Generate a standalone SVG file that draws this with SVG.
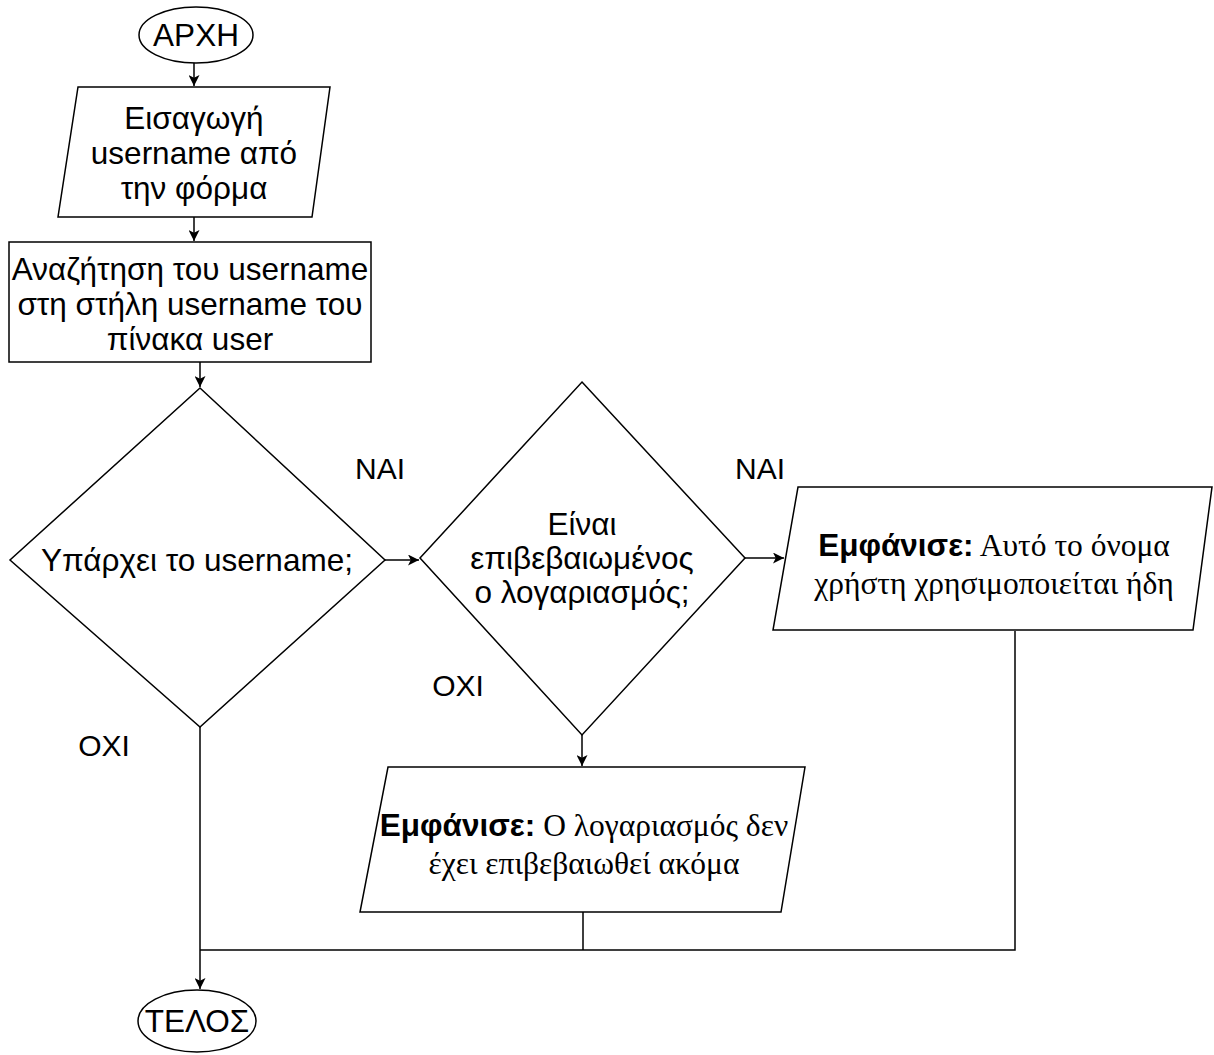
<svg xmlns="http://www.w3.org/2000/svg" width="1214" height="1055" viewBox="0 0 1214 1055">
<defs>
<marker id="arr" viewBox="0 0 10 10" refX="10" refY="5" markerWidth="11" markerHeight="11" markerUnits="userSpaceOnUse" orient="auto">
<path d="M0,0 L10,5 L0,10 L2.5,5 Z" fill="#000"/>
</marker>
<style>
.s{fill:#fff;stroke:#000;stroke-width:1.5}
.c{fill:none;stroke:#000;stroke-width:1.5}
.t{font-family:"Liberation Sans",Arial,sans-serif;font-size:31.5px;fill:#000;text-anchor:middle}
.l{font-family:"Liberation Sans",Arial,sans-serif;font-size:30px;fill:#000;text-anchor:middle}
.b{font-family:"Liberation Sans",Arial,sans-serif;font-weight:bold}
.r{font-family:"Liberation Serif","Times New Roman",serif;font-size:31.5px;fill:#000;text-anchor:middle}
</style>
</defs>
<rect width="1214" height="1055" fill="#fff"/>
<g id="connectors">
<path class="c" d="M194,63 L194,86" marker-end="url(#arr)"/>
<path class="c" d="M194,217 L194,241" marker-end="url(#arr)"/>
<path class="c" d="M200,362 L200,387" marker-end="url(#arr)"/>
<path class="c" d="M385,560 L419,560" marker-end="url(#arr)"/>
<path class="c" d="M745,558 L784,558" marker-end="url(#arr)"/>
<path class="c" d="M582,735 L582,766" marker-end="url(#arr)"/>
<path class="c" d="M200,727 L200,989" marker-end="url(#arr)"/>
<path class="c" d="M583,912 L583,950 M1015,631 L1015,950 L200,950"/>
</g>
<g id="labels">
<text class="l" x="380" y="479">ΝΑΙ</text>
<text class="l" x="760" y="479">ΝΑΙ</text>
<text class="l" x="458" y="696">ΟΧΙ</text>
<text class="l" x="104" y="756">ΟΧΙ</text>
</g>
<g id="start">
<ellipse class="s" cx="196" cy="35" rx="57" ry="28"/>
<text class="t" x="196" y="46">ΑΡΧΗ</text>
</g>
<g id="input">
<polygon class="s" points="78,87 330,87 312,217 58,217"/>
<text class="t" x="194" y="129">Εισαγωγή</text>
<text class="t" x="194" y="164">username από</text>
<text class="t" x="194" y="199">την φόρμα</text>
</g>
<g id="search">
<rect class="s" x="9" y="242" width="362" height="120"/>
<text class="t" x="190" y="280">Αναζήτηση του username</text>
<text class="t" x="190" y="315">στη στήλη username του</text>
<text class="t" x="190" y="350">πίνακα user</text>
</g>
<g id="exists">
<polygon class="s" points="200,388 385,560 200,727 10,560"/>
<text class="t" x="197" y="571">Υπάρχει το username;</text>
</g>
<g id="verified">
<polygon class="s" points="582,382 745,558 582,735 420,558"/>
<text class="t" x="582" y="535">Είναι</text>
<text class="t" x="582" y="569">επιβεβαιωμένος</text>
<text class="t" x="582" y="603">ο λογαριασμός;</text>
</g>
<g id="msg-used">
<polygon class="s" points="798,487 1212,487 1193,630 773,630"/>
<text class="r" x="994" y="556"><tspan class="b">Εμφάνισε:</tspan> Αυτό το όνομα</text>
<text class="r" x="994" y="594">χρήστη χρησιμοποιείται ήδη</text>
</g>
<g id="msg-unverified">
<polygon class="s" points="388,767 805,767 781,912 360,912"/>
<text class="r" x="584" y="836"><tspan class="b">Εμφάνισε:</tspan> Ο λογαριασμός δεν</text>
<text class="r" x="584" y="874">έχει επιβεβαιωθεί ακόμα</text>
</g>
<g id="end">
<ellipse class="s" cx="197" cy="1021" rx="59" ry="31"/>
<text class="t" x="197" y="1032">ΤΕΛΟΣ</text>
</g>
</svg>
